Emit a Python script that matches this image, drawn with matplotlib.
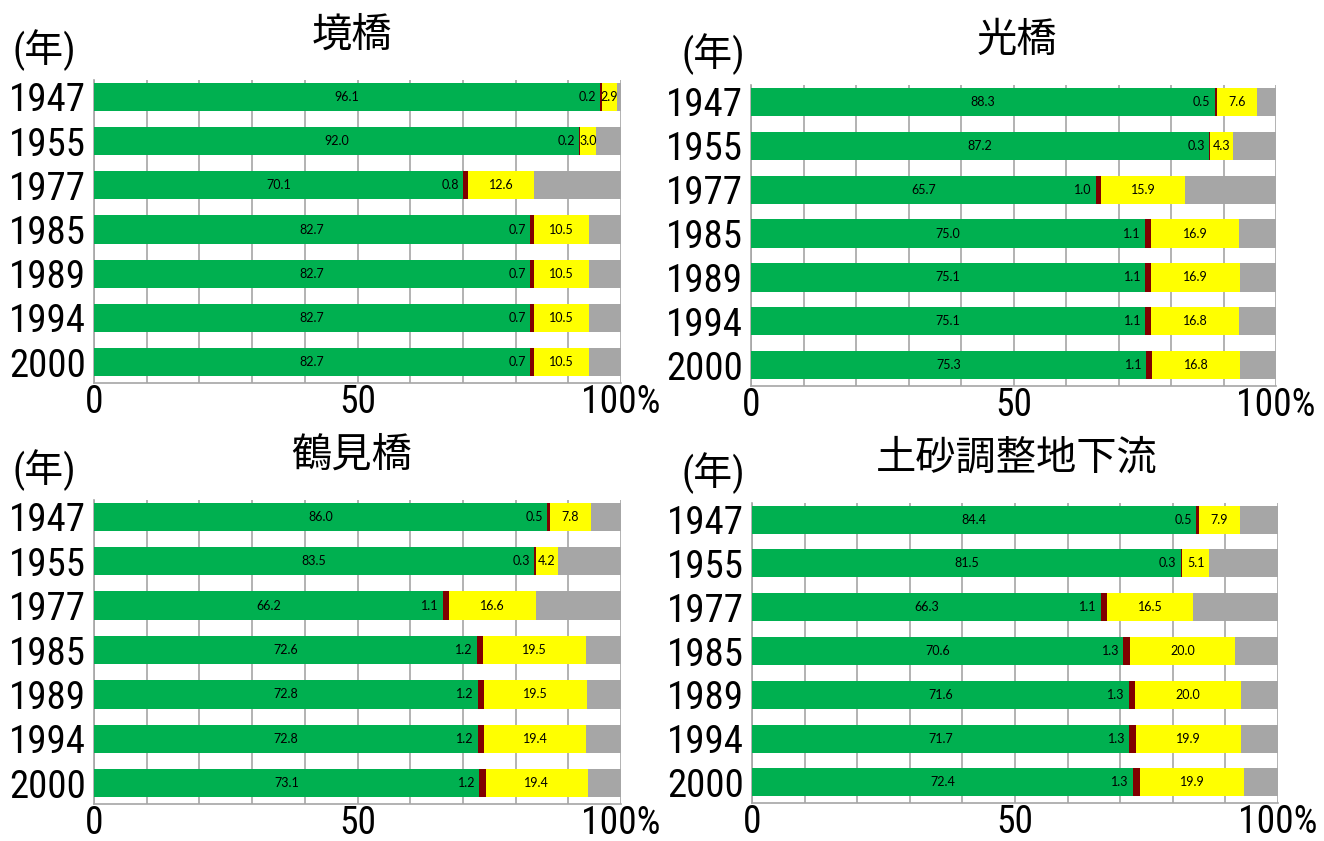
import numpy as np
import matplotlib
matplotlib.use("Agg")
import matplotlib.pyplot as plt
from matplotlib import font_manager as fm

# narrow font for the axis numbers, whichever is around
_installed = {f.name for f in fm.fontManager.ttflist}
NARROW = next((n for n in ["Roboto Condensed", "IBM Plex Sans Condensed",
                           "Liberation Sans Narrow"] if n in _installed),
              "DejaVu Sans")
plt.rcParams["font.family"] = [NARROW, "Noto Sans CJK JP", "DejaVu Sans"]

YEARS = ["1947", "1955", "1977", "1985", "1989", "1994", "2000"]

TITLES = ["境橋", "光橋", "鶴見橋", "土砂調整地下流"]

GREEN = [
    [96.1, 92.0, 70.1, 82.7, 82.7, 82.7, 82.7],
    [88.3, 87.2, 65.7, 75.0, 75.1, 75.1, 75.3],
    [86.0, 83.5, 66.2, 72.6, 72.8, 72.8, 73.1],
    [84.4, 81.5, 66.3, 70.6, 71.6, 71.7, 72.4],
]
RED = [
    [0.2, 0.2, 0.8, 0.7, 0.7, 0.7, 0.7],
    [0.5, 0.3, 1.0, 1.1, 1.1, 1.1, 1.1],
    [0.5, 0.3, 1.1, 1.2, 1.2, 1.2, 1.2],
    [0.5, 0.3, 1.1, 1.3, 1.3, 1.3, 1.3],
]
YELLOW = [
    [2.9, 3.0, 12.6, 10.5, 10.5, 10.5, 10.5],
    [7.6, 4.3, 15.9, 16.9, 16.9, 16.8, 16.8],
    [7.8, 4.2, 16.6, 19.5, 19.5, 19.4, 19.4],
    [7.9, 5.1, 16.5, 20.0, 20.0, 19.9, 19.9],
]

C_GREEN = "#00B050"
C_RED = "#800000"
C_YELLOW = "#FFFF00"
C_GRAY = "#A6A6A6"
C_GRID = "#A6A6A6"

W, H = 1324, 841

# panel boxes in pixels: left, top, right, bottom
BOXES = [
    (94, 80, 621, 383),
    (751, 85, 1276, 386),
    (94, 500, 621, 804),
    (752, 503, 1278, 803),
]
# title centre and "(年)" position, pixels
TITLE_POS = [(352, 35), (1017, 40), (352, 455), (1017, 458)]
NEN_POS = [(12, 50), (682, 54), (12, 470), (682, 473)]

LABEL_FONT = dict(family=["Lato", "DejaVu Sans"], fontsize=9, color="black")

fig = plt.figure(figsize=(W / 100, H / 100), dpi=100)
fig.patch.set_facecolor("white")

for i in range(4):
    l, t, r, b = BOXES[i]
    ax = fig.add_axes([l / W, 1 - b / H, (r - l) / W, (b - t) / H])
    g = np.array(GREEN[i])
    rd = np.array(RED[i])
    yl = np.array(YELLOW[i])
    gr = 100 - g - rd - yl
    y = np.arange(len(YEARS))
    hgt = 0.64

    ax.barh(y, g, height=hgt, color=C_GREEN, zorder=3)
    ax.barh(y, rd, left=g, height=hgt, color=C_RED, zorder=3)
    ax.barh(y, yl, left=g + rd, height=hgt, color=C_YELLOW, zorder=3)
    ax.barh(y, gr, left=g + rd + yl, height=hgt, color=C_GRAY, zorder=3)

    for k in range(len(YEARS)):
        ax.text(g[k] / 2, y[k], f"{g[k]:.1f}", ha="center", va="center",
                zorder=4, **LABEL_FONT)
        ax.annotate(f"{rd[k]:.1f}", (g[k], y[k]), xytext=(-3, 0),
                    textcoords="offset points", ha="right", va="center",
                    zorder=4, **LABEL_FONT)
        ax.text(g[k] + rd[k] + yl[k] / 2, y[k], f"{yl[k]:.1f}", ha="center",
                va="center", zorder=4, **LABEL_FONT)

    ax.set_xlim(0, 100)
    ax.set_ylim(6.47, -0.38)
    ax.set_yticks(y)
    ax.set_yticklabels(YEARS, fontsize=28)
    ticks = np.arange(0, 101, 10)
    ax.set_xticks(ticks)
    ax.set_xticklabels(["0", "", "", "", "", "50", "", "", "", "", "100%"],
                       fontsize=27)
    ax.tick_params(axis="both", length=0)
    ax.tick_params(axis="y", pad=6)
    ax.tick_params(axis="x", pad=1)
    ax.xaxis.grid(True, color=C_GRID, linewidth=1.2, zorder=0)
    ax.set_axisbelow(True)
    for side in ("top", "right"):
        ax.spines[side].set_visible(False)
    for side in ("left", "bottom"):
        ax.spines[side].set_color(C_GRID)
        ax.spines[side].set_linewidth(1.2)

    tx, ty = TITLE_POS[i]
    fig.text(tx / W, 1 - ty / H, TITLES[i], ha="center", va="center",
             fontsize=29, family=["Noto Sans CJK JP"])
    nx, ny = NEN_POS[i]
    fig.text(nx / W, 1 - ny / H, "(年)", ha="left", va="center",
             fontsize=28, family=[NARROW, "Noto Sans CJK JP"])

fig.savefig("out.png", dpi=100, facecolor="white")
